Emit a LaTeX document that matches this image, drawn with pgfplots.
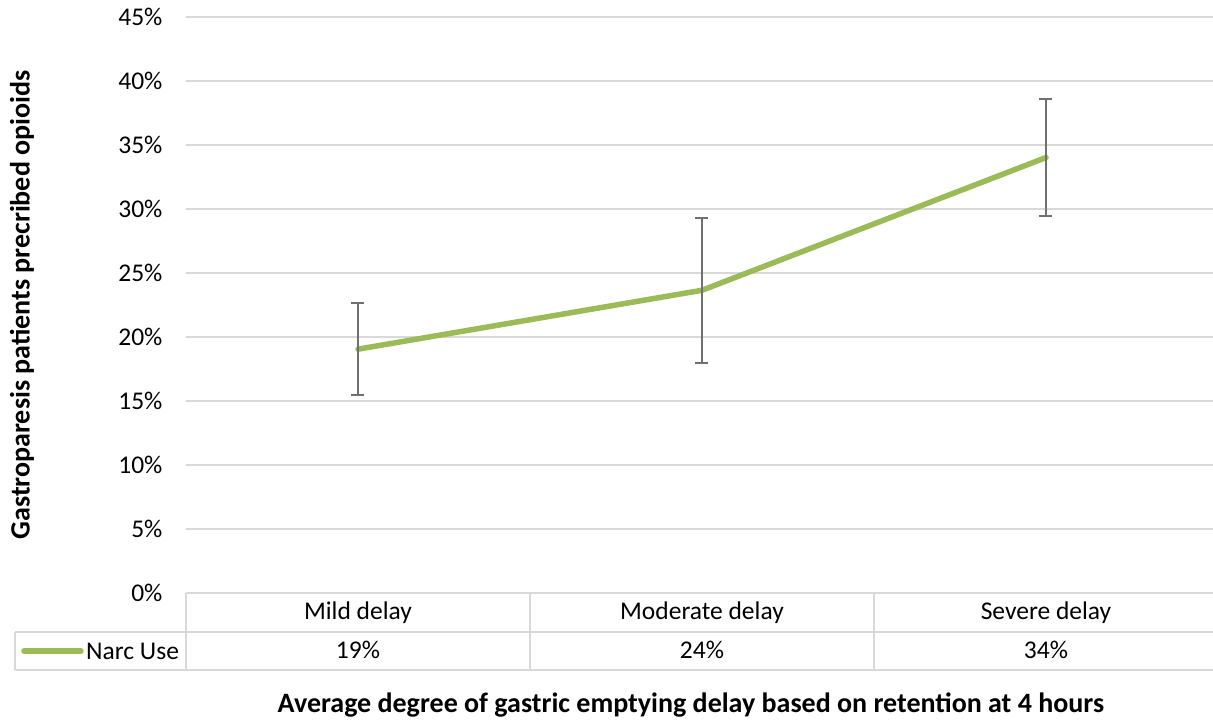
\documentclass[border=0pt]{standalone}
\usepackage{fontspec}
\setmainfont{Carlito}
\usepackage{pgfplots}
\pgfplotsset{compat=1.18}
\definecolor{narc}{HTML}{9BBB59}
\definecolor{gridc}{HTML}{D9D9D9}
\definecolor{errc}{HTML}{707070}
\begin{document}
\begin{tikzpicture}
\begin{axis}[
  at={(0pt,0pt)}, anchor=south west,
  scale only axis, width=1032pt, height=576pt,
  xmin=-0.5, xmax=2.5, ymin=0, ymax=45,
  ytick={0,5,...,45},
  yticklabel={\pgfmathprintnumber{\tick}\%},
  /pgf/number format/assume math mode=true,
  xtick={0,1,2},
  xticklabels={{Mild delay\\[9pt]19\%},{Moderate delay\\[9pt]24\%},{Severe delay\\[9pt]34\%}},
  xticklabel style={align=center, anchor=north, yshift=-5pt},
  yticklabel style={xshift=-20pt},
  major tick length=0pt,
  ymajorgrids, xmajorgrids=false, grid style={draw=gridc, line width=1.2pt},
  axis line style={draw=none},
  tick label style={font=\fontsize{25.5}{30}\selectfont, text=black},
  xlabel={Average degree of gastric emptying delay based on retention at 4 hours},
  ylabel={Gastroparesis patients precribed opioids},
  every axis x label/.style={at={(axis description cs:0.4893,-0.1944)}, anchor=center, font=\fontsize{28}{32}\selectfont\bfseries},
  every axis y label/.style={at={(axis description cs:-0.1589,0.5)}, anchor=center, rotate=90, font=\fontsize{28}{32}\selectfont\bfseries},
  clip=false,
]
\addplot[narc, line width=5.5pt, line join=round, line cap=round,
  error bars/.cd, y dir=both, y explicit,
  error bar style={errc, line width=1.8pt},
  error mark options={errc, rotate=90, mark size=6.5pt, line width=1.8pt}]
  coordinates {
  (0,19.05) +- (0,3.6)
  (1,23.65) +- (0,5.65)
  (2,34.02) +- (0,4.57)
  };
\end{axis}
% data table below the axis (pt = px of reference)
\begin{scope}[draw=gridc, line width=1.2pt]
  \draw (0pt,0pt) -- (1032pt,0pt);
  \draw (-171pt,-39pt) -- (1032pt,-39pt);
  \draw (-171pt,-77pt) -- (1032pt,-77pt);
  \draw (-171pt,-39pt) -- (-171pt,-77pt);
  \foreach \x in {0,344,688,1032} \draw (\x pt,0pt) -- (\x pt,-77pt);
\end{scope}
\draw[narc, line width=5.5pt, line cap=round] (-162pt,-58pt) -- (-105pt,-58pt);
\node[anchor=west, font=\fontsize{25.5}{30}\selectfont, inner sep=0pt] at (-100pt,-58pt) {Narc Use};
\pgfresetboundingbox
\useasboundingbox (-186pt,-130pt) rectangle (1027pt,593pt);
\end{tikzpicture}
\end{document}
